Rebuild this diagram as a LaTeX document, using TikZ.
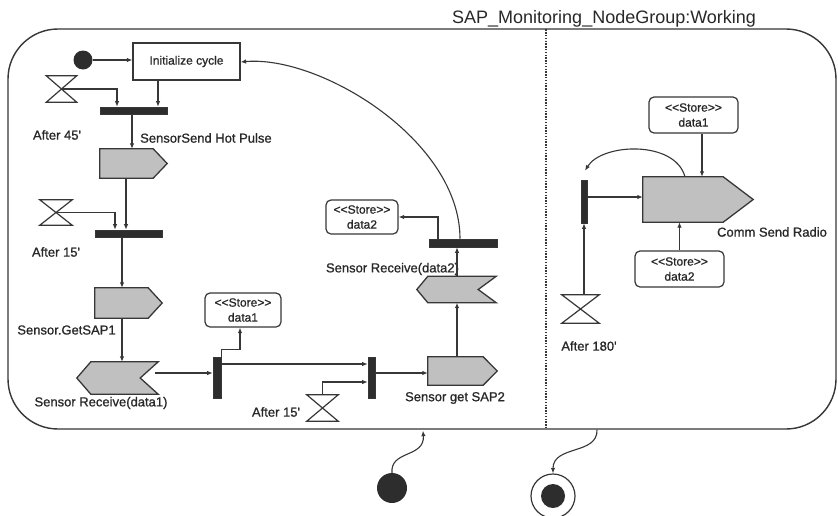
\documentclass[tikz,border=0pt]{standalone}
\usepackage{fontspec}
\setmainfont{Liberation Sans}
\newfontfamily\lblfont{Liberation Sans}[RawFeature={embolden=0.9}]
\usetikzlibrary{arrows.meta,calc}
\definecolor{lncol}{RGB}{55,55,55}
\definecolor{sigcol}{RGB}{192,192,192}
\definecolor{barcol}{RGB}{45,45,45}
\definecolor{txtcol}{RGB}{40,40,40}
\newcommand\sendsh[2]{\draw[sigst] (#1.north west) -- ($(#1.north east)+(-#2,0)$) -- (#1.east) -- ($(#1.south east)+(-#2,0)$) -- (#1.south west) -- cycle;}
\newcommand\recvsh[3]{\draw[sigst] (#1.west) -- ($(#1.north west)+(#2,0)$) -- (#1.north east) -- ($(#1.east)+(-#3,0)$) -- (#1.south east) -- ($(#1.south west)+(#2,0)$) -- cycle;}
\tikzset{
  ln/.style={draw=lncol, line width=1.1pt},
  arr/.style={ln, -{Latex[length=5.5pt,width=4.5pt]}},
  sigst/.style={draw=lncol, fill=sigcol, line width=1.3pt, line join=miter},
  frame/.style={inner sep=0pt, draw=none},
  barst/.style={draw=lncol, fill=barcol, inner sep=0pt, line width=0.6pt},
  store/.style={draw=lncol, rounded corners=5pt, line width=1.2pt, inner sep=0pt, align=center, font=\lblfont\fontsize{12}{15}\selectfont, text=txtcol},
  lbl/.style={font=\lblfont\fontsize{13}{15}\selectfont, text=txtcol, inner sep=0pt},
  actbox/.style={draw=lncol, line width=1.2pt, inner sep=0pt, font=\lblfont\fontsize{12}{14}\selectfont, text=txtcol},
}
\begin{document}
\begin{tikzpicture}[x=1pt,y=-1pt]
\fill[white] (0,0) rectangle (838,515);
\useasboundingbox (0,0) rectangle (838,515);

% state frame
\node[draw=lncol, line width=1.4pt, rounded corners=50pt, minimum width=828pt, minimum height=400pt, inner sep=0pt] (wk) at (422,229) {};
\node[anchor=base west, font=\fontsize{18}{20}\selectfont, text=txtcol, inner sep=0pt] (title) at (452,23) {SAP\_Monitoring\_NodeGroup:Working};
\draw[draw=lncol, line width=1.6pt, dash pattern=on 1.5pt off 1.3pt] ($(wk.north)+(124,1)$) -- ($(wk.south)+(124,-2)$);

% left region nodes
\node[circle, fill=barcol, minimum size=19pt, inner sep=0pt] (dot) at (83,60) {};
\node[actbox, minimum width=107pt, minimum height=37pt] (init) at (186.5,61.5) {Initialize cycle};
\node[frame, minimum width=30pt, minimum height=26pt] (h1) at (61.5,89) {};
\node[barst, minimum width=67pt, minimum height=7pt] (bar1) at (133.5,110.5) {};
\node[frame, minimum width=67pt, minimum height=29pt] (send1) at (133.5,163.5) {};
\sendsh{send1}{14}
\node[frame, minimum width=32pt, minimum height=25pt] (h2) at (56,212.5) {};
\node[barst, minimum width=67pt, minimum height=7pt] (bar2) at (128.5,233.5) {};
\node[frame, minimum width=67pt, minimum height=30pt] (send2) at (128.5,303) {};
\sendsh{send2}{14}
\node[frame, minimum width=81pt, minimum height=32pt] (recv1) at (117.5,378) {};
\recvsh{recv1}{14}{18}
\node[barst, minimum width=8pt, minimum height=41pt] (bar3) at (217,377.5) {};
\node[store, minimum width=76pt, minimum height=34pt] (st1) at (243,310) {<\kern0pt<Store>\kern0pt>\\data1};
\node[barst, minimum width=7pt, minimum height=41pt] (bar4) at (371.5,377.5) {};
\node[frame, minimum width=31pt, minimum height=26pt] (h3) at (322.5,408) {};
\node[frame, minimum width=69pt, minimum height=28pt] (send3) at (462.5,371) {};
\sendsh{send3}{14}
\node[frame, minimum width=79pt, minimum height=26pt] (recv2) at (456.5,289.5) {};
\recvsh{recv2}{11}{18}
\node[barst, minimum width=68pt, minimum height=8pt] (bar5) at (463,243) {};
\node[store, minimum width=72pt, minimum height=34pt] (st2) at (362,217) {<\kern0pt<Store>\kern0pt>\\data2};

% right region nodes
\node[store, minimum width=89pt, minimum height=36pt] (st3) at (693.5,115) {<\kern0pt<Store>\kern0pt>\\data1};
\node[frame, minimum width=110pt, minimum height=45pt] (send4) at (698,199.5) {};
\sendsh{send4}{30}
\node[barst, minimum width=6pt, minimum height=43pt] (bar6) at (584,201.5) {};
\node[frame, minimum width=37pt, minimum height=28pt] (h4) at (580.5,309) {};
\node[store, minimum width=89pt, minimum height=36pt] (st4) at (679.5,269) {<\kern0pt<Store>\kern0pt>\\data2};

% hourglasses
\foreach \h in {h1,h2,h3,h4}
  \draw[draw=lncol, line width=1.2pt, line join=miter] (\h.north west) -- (\h.north east) -- (\h.south west) -- (\h.south east) -- cycle;

% bottom pseudo states
\node[circle, fill=barcol, minimum size=30pt, inner sep=0pt] (start) at (392,488) {};
\node[circle, draw=lncol, line width=1.2pt, minimum size=44pt, inner sep=0pt] (final) at (553,496) {};
\node[circle, fill=barcol, minimum size=24pt, inner sep=0pt] (finalin) at (553,496) {};

% labels
\node[lbl] (l1) at (57,135) {After 45'};
\node[lbl, anchor=west] (l2) at (140,138) {SensorSend Hot Pulse};
\node[lbl] (l3) at (56,252) {After 15'};
\node[lbl] (l4) at (66.5,330) {Sensor.GetSAP1};
\node[lbl] (l5) at (101,403) {Sensor Receive(data1)};
\node[lbl] (l6) at (276,412) {After 15'};
\node[lbl] (l7) at (455,398) {Sensor get SAP2};
\node[lbl] (l8) at (392.5,269) {Sensor Receive(data2)};
\node[lbl] (l9) at (589,346) {After 180'};
\node[lbl] (l10) at (772,232) {Comm Send Radio};

% connectors left
\draw[arr] (dot.east) -- (dot.east -| init.west);
\draw[arr] (h1.center) -| ($(bar1.north)+(-16.5,0)$);
\draw[arr] ($(init.south)+(-28.5,0)$) -- ($(bar1.north)+(24.5,0)$);
\draw[arr] ($(bar1.south)+(-1.5,0)$) -- ($(send1.north)+(-1.5,0)$);
\draw[arr] ($(send1.south)+(-7.5,0)$) -- ($(bar2.north)+(-2.5,0)$);
\draw[arr] (h2.center) -| ($(bar2.north)+(-13.5,0)$);
\draw[arr] ($(bar2.south)+(-6.5,0)$) -- ($(send2.north)+(-6.5,0)$);
\draw[arr] ($(send2.south)+(-6.5,0)$) -- ($(recv1.north)+(4.5,0)$);
\draw[arr] ($(recv1.center)+(37.5,-5)$) -- ($(bar3.west)+(0,-4.5)$);
\draw[arr] (bar3.north east) -- ++(0,-7) -| ($(st1.south)+(-3,0)$);
\draw[arr] ($(bar3.east)+(0,-13.5)$) -- ($(bar4.west)+(0,-13.5)$);
\draw[arr] (h3.north) |- ($(bar4.west)+(0,4.5)$);
\draw[arr] ($(bar4.east)+(0,-4.5)$) -- ($(send3.west)+(0,2)$);
\draw[arr] ($(send3.north)+(-5.5,0)$) -- ($(recv2.south)+(0.5,0)$);
\draw[arr] ($(recv2.north)+(0.5,0)$) -- ($(bar5.south)+(-6,0)$);
\draw[arr] ($(bar5.north)+(-25,0)$) |- (st2.east);
\draw[arr] ($(bar5.north)+(-3,0)$) .. controls (460,140) and (320,55) .. ($(init.east)+(0,0.5)$);

% connectors right
\draw[arr] ($(st3.south)+(8.5,0)$) -- ($(send4.north)+(4,0)$);
\draw[arr] ($(bar6.east)+(0,-4.5)$) -- ($(send4.west)+(0,-2.5)$);
\draw[arr] ($(send4.north)+(-13,0)$) .. controls (675,140) and (602,143) .. ($(bar6.north)+(1,-9)$);
\draw[arr] (h4.north -| bar6.south) -- (bar6.south);
\draw[arr] (st4.north) -- (st4.north |- send4.south);

% entry / exit
\draw[arr] (start.north) .. controls (390,450) and (425,458) .. ($(wk.south)+(1,1)$);
\draw[arr] ($(wk.south)+(175,0)$) .. controls (598,455) and (553,445) .. (final.north);
\end{tikzpicture}
\end{document}
